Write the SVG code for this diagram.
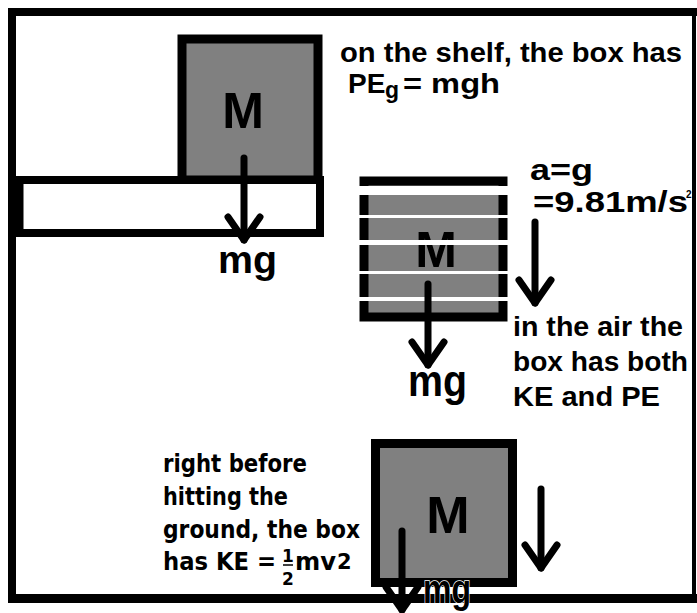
<svg xmlns="http://www.w3.org/2000/svg" width="697" height="613" viewBox="0 0 697 613">
<defs>
<style>
.box{fill:#808080;stroke:#000;stroke-width:9}
.ar{font-family:"Liberation Sans",Arial,sans-serif;font-weight:bold;fill:#000}
.tah{font-family:"DejaVu Sans",Verdana,sans-serif;font-weight:bold;fill:#000}
.conn{stroke:#000;stroke-width:7;fill:none;stroke-linecap:round;marker-end:url(#ah)}
.gap{fill:#fff}
</style>
<marker id="ah" markerUnits="userSpaceOnUse" orient="auto" overflow="visible" refX="0" refY="0" markerWidth="1" markerHeight="1">
<path d="M-23,-16 L0,0 L-23,16" fill="none" stroke="#000" stroke-width="7" stroke-linecap="round" stroke-linejoin="round"/>
</marker>
</defs>
<rect width="697" height="613" fill="#fff"/>
<g id="frame" fill="#000">
<rect x="8" y="8" width="689" height="8"/>
<rect x="8" y="8" width="8" height="595"/>
<rect x="8" y="594" width="689" height="9"/>
<rect x="692" y="8" width="4" height="595"/>
</g>
<g id="box-shelf">
<rect class="box" x="182" y="39" width="136" height="141"/>
<text class="ar" x="243" y="128" font-size="50" text-anchor="middle">M</text>
</g>
<g id="shelf">
<rect x="19.5" y="180" width="300.5" height="53" fill="#fff" stroke="#000" stroke-width="8"/>
</g>
<g id="box-air">
<rect class="box" x="364" y="181" width="139" height="136"/>
<text class="ar" x="436" y="267" font-size="50" text-anchor="middle">M</text>
<rect class="gap" x="355" y="186" width="158" height="9"/>
<rect class="gap" x="355" y="215" width="158" height="3"/>
<rect class="gap" x="355" y="240" width="158" height="5"/>
<rect class="gap" x="355" y="271" width="158" height="3"/>
<rect class="gap" x="355" y="297" width="158" height="4"/>
</g>
<g id="box-ground">
<rect class="box" x="375.5" y="443.5" width="137" height="139"/>
<text class="ar" x="448" y="533" font-size="52" text-anchor="middle">M</text>
</g>
<g id="connectors">
<path class="conn" d="M244,158 L244,240"/>
<path class="conn" d="M428,284 L428,365"/>
<path class="conn" d="M535,222 L535,303"/>
<path class="conn" d="M402,531 L402,610"/>
<path class="conn" d="M541,489 L541,568"/>
</g>
<g id="labels">
<text class="ar" x="218" y="273" font-size="38" textLength="59" lengthAdjust="spacingAndGlyphs">mg</text>
<text class="ar" x="408" y="396" font-size="44" textLength="59" lengthAdjust="spacingAndGlyphs">mg</text>
<text class="ar" x="423" y="603" font-size="40" textLength="48" lengthAdjust="spacingAndGlyphs" stroke="#fff" stroke-width="1.5" paint-order="stroke">mg</text>
<text class="ar" x="340" y="62" font-size="28" textLength="342" lengthAdjust="spacingAndGlyphs">on the shelf, the box has</text>
<text class="ar" x="348" y="93" font-size="28">PE</text>
<text class="ar" x="385" y="98" font-size="23">g</text>
<text class="ar" x="403" y="93" font-size="28" textLength="97" lengthAdjust="spacingAndGlyphs">= mgh</text>
<text class="ar" x="530" y="180" font-size="30" textLength="63" lengthAdjust="spacingAndGlyphs">a=g</text>
<text class="ar" x="533" y="212" font-size="30" textLength="155" lengthAdjust="spacingAndGlyphs">=9.81m/s</text>
<text class="ar" x="686" y="198" font-size="10">2</text>
<text class="ar" x="513" y="336" font-size="28" textLength="170" lengthAdjust="spacingAndGlyphs">in the air the</text>
<text class="ar" x="513" y="371" font-size="28" textLength="175" lengthAdjust="spacingAndGlyphs">box has both</text>
<text class="ar" x="513" y="406" font-size="28" textLength="147" lengthAdjust="spacingAndGlyphs">KE and PE</text>
<text class="tah" x="163" y="472" font-size="24" textLength="144" lengthAdjust="spacingAndGlyphs">right before</text>
<text class="tah" x="163" y="505" font-size="24" textLength="125" lengthAdjust="spacingAndGlyphs">hitting the</text>
<text class="tah" x="163" y="538" font-size="24" textLength="197" lengthAdjust="spacingAndGlyphs">ground, the box</text>
<text class="tah" x="163" y="570" font-size="24" textLength="113" lengthAdjust="spacingAndGlyphs">has KE =</text>
<text class="tah" x="288" y="562" font-size="17" text-anchor="middle">1</text>
<line x1="283" y1="565" x2="293" y2="565" stroke="#000" stroke-width="1.5"/>
<text class="tah" x="288" y="585" font-size="17" text-anchor="middle">2</text>
<text class="tah" x="295" y="570" font-size="24" textLength="41" lengthAdjust="spacingAndGlyphs">mv</text>
<text class="tah" x="337" y="569" font-size="21">2</text>
</g>
</svg>
